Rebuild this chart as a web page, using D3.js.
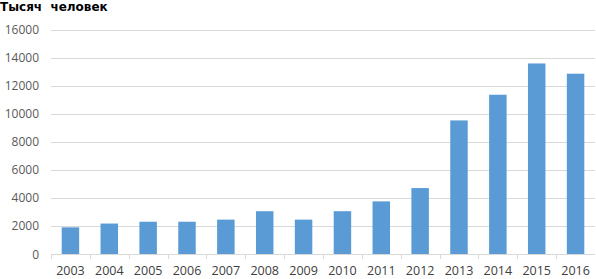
<!DOCTYPE html>
<html>
<head>
<meta charset="utf-8">
<script src="https://cdn.jsdelivr.net/npm/d3@7"></script>
<style>
  body { margin: 0; background: #fff; }
  svg { display: block; }
</style>
</head>
<body>
<div id="chart"></div>
<script>
// data
const years = ["2003", "2004", "2005", "2006", "2007", "2008", "2009", "2010", "2011", "2012", "2013", "2014", "2015", "2016"];
const values = [1900, 2170, 2300, 2300, 2450, 3050, 2450, 3050, 3750, 4700, 9520, 11350, 13580, 12850];
const yTicks = [0, 2000, 4000, 6000, 8000, 10000, 12000, 14000, 16000];

const width = 596, height = 279;
const margin = {top: 30, right: 1, bottom: 25, left: 51};

const svg = d3.select("#chart").append("svg")
    .attr("width", width)
    .attr("height", height);

const x = d3.scaleBand()
    .domain(years)
    .range([margin.left, width - margin.right])
    .paddingInner(0.55)
    .paddingOuter(0.275);

const y = d3.scaleLinear()
    .domain([0, 16000])
    .range([height - margin.bottom, margin.top - 0.5]);

// gridlines
svg.append("g")
    .selectAll("line")
    .data(yTicks.slice(1))
    .join("line")
    .attr("x1", margin.left)
    .attr("x2", width - margin.right)
    .attr("y1", d => Math.round(y(d)) + 0.5)
    .attr("y2", d => Math.round(y(d)) + 0.5)
    .attr("stroke", "#d9d9d9")
    .attr("stroke-width", 1);

// y labels
svg.append("g")
    .selectAll("text")
    .data(yTicks)
    .join("text")
    .attr("x", 39)
    .attr("y", d => y(d) + 4.5)
    .attr("text-anchor", "end")
    .attr("font-family", "Open Sans, sans-serif")
    .attr("font-size", 12)
    .attr("fill", "#595959")
    .text(d => d);

// bars
svg.append("g")
    .selectAll("rect")
    .data(values)
    .join("rect")
    .attr("x", (d, i) => x(years[i]))
    .attr("width", x.bandwidth())
    .attr("y", d => y(d))
    .attr("height", d => y(0) - y(d))
    .attr("fill", "#5b9bd5");

// x axis
const xAxis = svg.append("g")
    .attr("transform", `translate(0,${Math.round(y(0)) + 0.5})`)
    .call(d3.axisBottom(x).tickSize(0).tickPadding(12));
xAxis.select(".domain").attr("stroke", "#d9d9d9").attr("d", `M${margin.left},0H${width - margin.right}`);
xAxis.selectAll("text")
    .attr("font-family", "Open Sans, sans-serif")
    .attr("font-size", 12.5)
    .attr("fill", "#404040");

// small ticks between categories
const step = x.step();
svg.append("g")
    .selectAll("line")
    .data(years)
    .join("line")
    .attr("x1", (d, i) => Math.round(x(d) - (step - x.bandwidth()) / 2) + 0.5)
    .attr("x2", (d, i) => Math.round(x(d) - (step - x.bandwidth()) / 2) + 0.5)
    .attr("y1", Math.round(y(0)))
    .attr("y2", Math.round(y(0)) + 5)
    .attr("stroke", "#d9d9d9");

// title
svg.append("text")
    .attr("x", 0)
    .attr("y", 11)
    .attr("font-family", "DejaVu Sans, sans-serif")
    .attr("font-weight", "bold")
    .attr("font-size", 12)
    .attr("fill", "#000")
    .style("white-space", "pre")
    .text("Тысяч  человек");
</script>
</body>
</html>
